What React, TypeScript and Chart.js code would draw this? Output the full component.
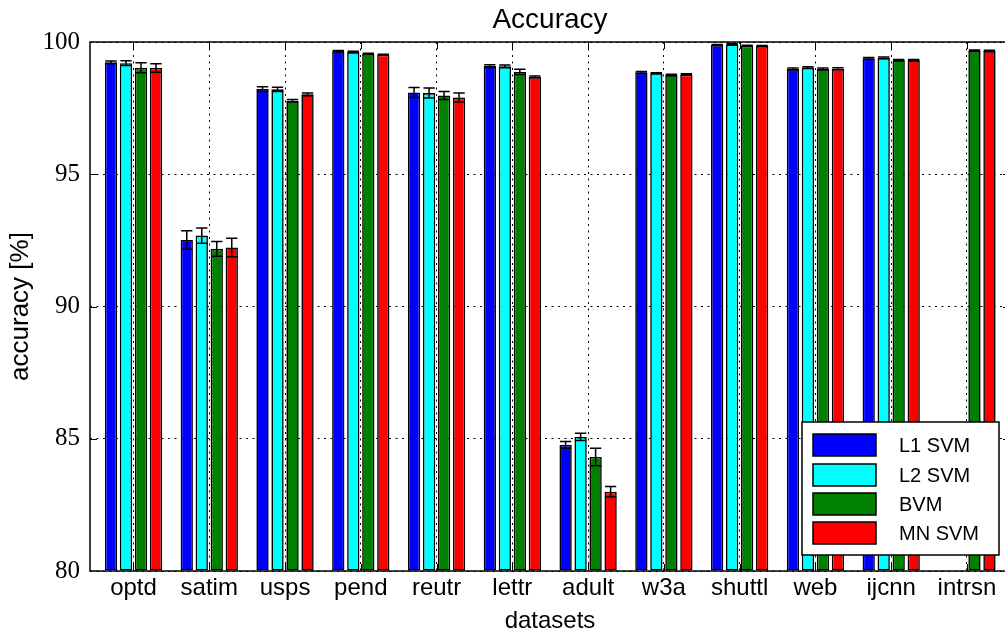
import React, { useEffect, useRef } from 'react';
import { Chart, registerables } from 'chart.js';

Chart.register(...registerables);

// Datasets on the horizontal axis
const categories = ['optd', 'satim', 'usps', 'pend', 'reutr', 'lettr', 'adult', 'w3a', 'shuttl', 'web', 'ijcnn', 'intrsn'];

// Mean accuracy [%] per classifier
const l1Svm = [99.23, 92.51, 98.22, 99.65, 98.09, 99.09, 84.77, 98.85, 99.89, 98.98, 99.38, null];
const l2Svm = [99.2, 92.68, 98.21, 99.62, 98.07, 99.08, 85.07, 98.82, 99.91, 99.03, 99.4, null];
const bvm = [99.03, 92.18, 97.78, 99.55, 97.98, 98.87, 84.31, 98.75, 99.86, 98.98, 99.31, 99.67];
const mnSvm = [99.02, 92.23, 98.02, 99.52, 97.9, 98.68, 83.0, 98.77, 99.85, 98.99, 99.31, 99.66];

// Standard deviation of the accuracy
const l1Err = [0.05, 0.35, 0.09, 0.03, 0.19, 0.05, 0.13, 0.03, 0.02, 0.04, 0.03, null];
const l2Err = [0.09, 0.29, 0.08, 0.03, 0.19, 0.05, 0.14, 0.02, 0.02, 0.03, 0.03, null];
const bvmErr = [0.19, 0.28, 0.05, 0.02, 0.15, 0.1, 0.33, 0.03, 0.02, 0.04, 0.03, 0.03];
const mnErr = [0.16, 0.35, 0.05, 0.02, 0.17, 0.03, 0.19, 0.03, 0.02, 0.04, 0.03, 0.03];

const seriesNames = ['L1 SVM', 'L2 SVM', 'BVM', 'MN SVM'];
const seriesColors = ['#0000ff', '#00ffff', '#008000', '#ff0000'];
const seriesValues = [l1Svm, l2Svm, bvm, mnSvm];
const seriesErrors = [l1Err, l2Err, bvmErr, mnErr];

const yTicks = [80, 85, 90, 95, 100];

const SANS = '"Liberation Sans", Arial, Helvetica, sans-serif';
const SERIF = '"Liberation Serif", "Times New Roman", serif';

// Black error bars with caps on top of each bar
const errorBars = {
  id: 'errorBars',
  afterDatasetsDraw(chart: any) {
    const { ctx } = chart;
    const y = chart.scales.y;
    ctx.save();
    ctx.strokeStyle = '#000';
    ctx.lineWidth = 1.5;
    chart.data.datasets.forEach((ds: any, di: number) => {
      const meta = chart.getDatasetMeta(di);
      meta.data.forEach((bar: any, i: number) => {
        const v = ds.data[i] ? ds.data[i].y : null;
        const e = ds.errors ? ds.errors[i] : null;
        if (v == null || e == null) return;
        const top = y.getPixelForValue(v + e);
        const bot = y.getPixelForValue(v - e);
        const hw = bar.width * 0.46;
        ctx.beginPath();
        ctx.moveTo(bar.x, top);
        ctx.lineTo(bar.x, bot);
        ctx.moveTo(bar.x - hw, top);
        ctx.lineTo(bar.x + hw, top);
        ctx.moveTo(bar.x - hw, bot);
        ctx.lineTo(bar.x + hw, bot);
        ctx.stroke();
      });
    });
    ctx.restore();
  },
};

// Axes frame with inward tick marks on all four sides
const frame = {
  id: 'frame',
  afterDraw(chart: any) {
    const { ctx, chartArea: a } = chart;
    const x = chart.scales.x;
    const y = chart.scales.y;
    const len = 7;
    ctx.save();
    ctx.strokeStyle = '#000';
    ctx.lineWidth = 1;
    ctx.beginPath();
    yTicks.slice(1, -1).forEach((v) => {
      const py = Math.round(y.getPixelForValue(v)) + 0.5;
      ctx.moveTo(a.left, py);
      ctx.lineTo(a.left + len, py);
      ctx.moveTo(a.right, py);
      ctx.lineTo(a.right - len, py);
    });
    categories.forEach((_, i) => {
      const px = Math.round(x.getPixelForValue(i)) + 0.5;
      ctx.moveTo(px, a.top);
      ctx.lineTo(px, a.top + len);
      ctx.moveTo(px, a.bottom);
      ctx.lineTo(px, a.bottom - len);
    });
    ctx.stroke();
    ctx.lineWidth = 1.5;
    ctx.strokeRect(a.left, a.top, a.right - a.left, a.bottom - a.top);
    ctx.restore();
  },
};

// Boxed legend in the lower right corner of the plot
const legendBox = {
  id: 'legendBox',
  afterDraw(chart: any) {
    const { ctx, chartArea: a } = chart;
    const w = 197;
    const h = 133;
    const right = a.right - 11;
    const bottom = a.bottom - 16;
    const left = right - w;
    const top = bottom - h;
    ctx.save();
    ctx.fillStyle = '#fff';
    ctx.fillRect(left, top, w, h);
    ctx.strokeStyle = '#000';
    ctx.lineWidth = 1.5;
    ctx.strokeRect(left, top, w, h);
    const rowCenters = [23, 53, 82, 111];
    ctx.font = `20px ${SANS}`;
    ctx.textBaseline = 'middle';
    ctx.textAlign = 'left';
    chart.data.datasets.forEach((ds: any, i: number) => {
      const cy = top + rowCenters[i];
      ctx.fillStyle = ds.backgroundColor;
      ctx.fillRect(left + 11, cy - 11, 63, 22);
      ctx.lineWidth = 1.5;
      ctx.strokeStyle = '#000';
      ctx.strokeRect(left + 11, cy - 11, 63, 22);
      ctx.fillStyle = '#000';
      ctx.fillText(ds.label, left + 97, cy + 1);
    });
    ctx.restore();
  },
};

export default function App() {
  const ref = useRef<HTMLCanvasElement | null>(null);

  useEffect(() => {
    if (!ref.current) return;
    document.body.style.overflow = 'hidden';
    const chart = new Chart(ref.current, {
      type: 'bar',
      data: {
        datasets: seriesValues.map((vals, k) => ({
          label: seriesNames[k],
          data: categories.map((_, i) => ({ x: i, y: vals[i] })),
          errors: seriesErrors[k],
          backgroundColor: seriesColors[k],
          borderColor: '#000',
          borderWidth: 1.6,
          borderSkipped: false,
          base: 80,
          categoryPercentage: 0.792,
          barPercentage: 0.82,
        })) as any,
      },
      options: {
        animation: false,
        responsive: false,
        devicePixelRatio: 1,
        layout: { padding: { left: 0, right: 1, top: 0, bottom: 0 } },
        plugins: {
          legend: { display: false },
          tooltip: { enabled: false },
          title: {
            display: true,
            text: 'Accuracy',
            fullSize: false,
            color: '#000',
            font: { family: SANS, size: 28, weight: 'normal', lineHeight: 1.2 },
            padding: { top: 3, bottom: 5.4 },
          },
        },
        scales: {
          x: {
            type: 'linear',
            min: -0.574,
            max: 11.568,
            offset: false,
            z: 1,
            grid: { offset: false, color: '#000', lineWidth: 1, drawTicks: false },
            border: { display: false, dash: [2, 4.5] },
            afterBuildTicks: (scale: any) => {
              scale.ticks = categories.map((_, i) => ({ value: i }));
            },
            afterFit: (scale: any) => {
              scale.height = 61;
            },
            ticks: {
              autoSkip: false,
              maxRotation: 0,
              padding: 3,
              color: '#000',
              font: { family: SANS, size: 24 },
              callback: (v: any) => categories[v as number],
            },
            title: {
              display: true,
              text: 'datasets',
              color: '#000',
              font: { family: SANS, size: 24, lineHeight: 0.92 },
              padding: { top: 0, bottom: 0 },
            },
          },
          y: {
            min: 80,
            max: 100,
            z: 1,
            grid: { color: '#000', lineWidth: 1, drawTicks: false },
            border: { display: false, dash: [2, 4.5] },
            afterBuildTicks: (scale: any) => {
              scale.ticks = yTicks.map((v) => ({ value: v }));
            },
            afterFit: (scale: any) => {
              scale.width = 90;
            },
            ticks: {
              padding: 10,
              color: '#000',
              font: { family: SERIF, size: 25 },
            },
            title: {
              display: true,
              text: 'accuracy [%]',
              color: '#000',
              font: { family: SANS, size: 26, lineHeight: 1.2 },
              padding: { top: 5, bottom: 0 },
            },
          },
        },
      } as any,
      plugins: [errorBars, frame, legendBox],
    });
    return () => chart.destroy();
  }, []);

  return (
    <canvas
      ref={ref}
      width={1011}
      height={632}
      style={{ position: 'fixed', left: 0, top: 0, display: 'block' }}
    />
  );
}
